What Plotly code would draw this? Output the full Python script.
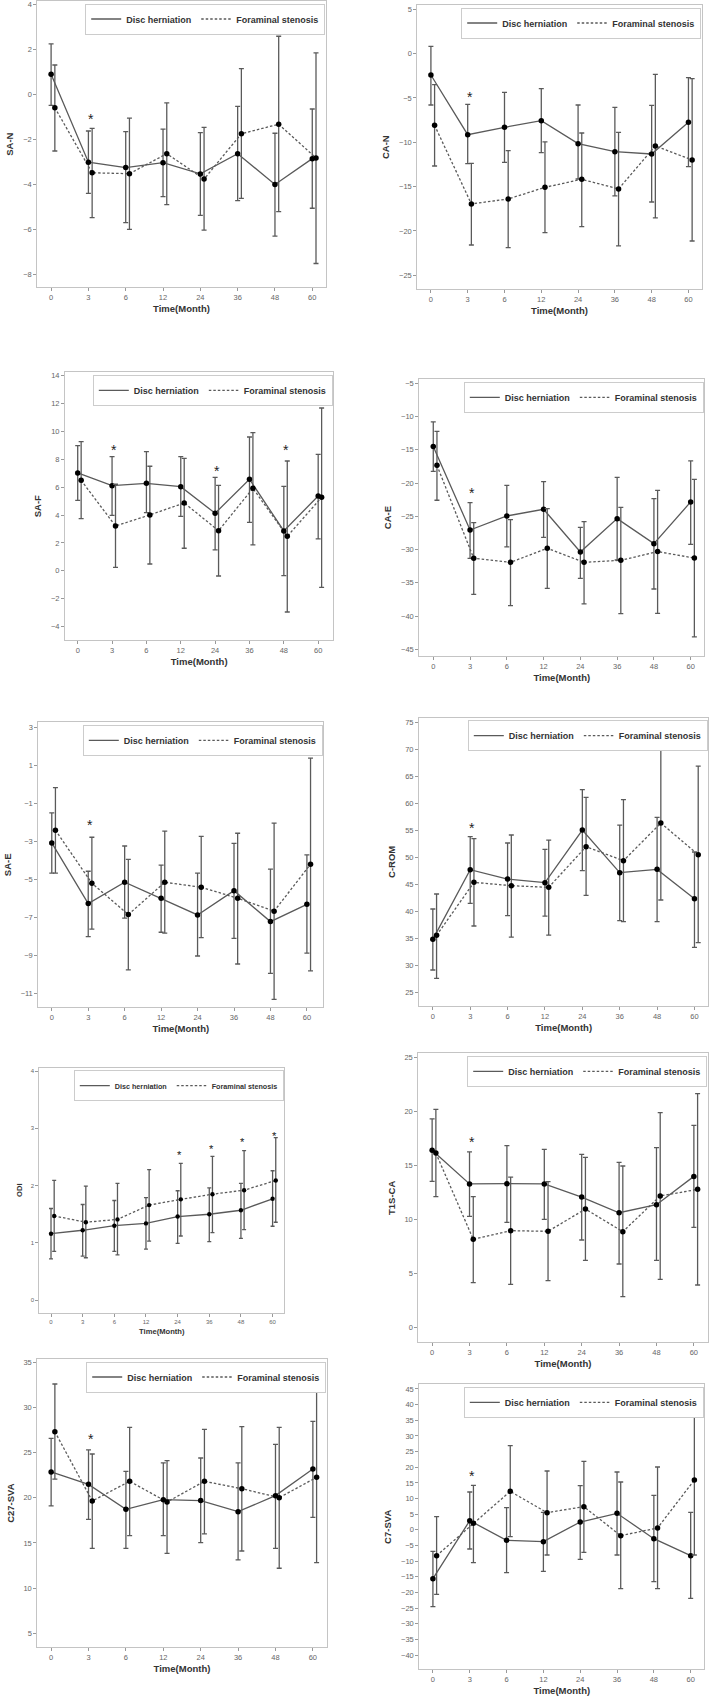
import plotly.graph_objects as go

FONT = "Liberation Sans"
LINE = "#5a5a5a"

MONTHS = ["0", "3", "6", "12", "24", "36", "48", "60"]
GROUPS = ["Disc herniation", "Foraminal stenosis"]

# SA-N
SA_N_DH = [0.90, -3.02, -3.26, -3.04, -3.54, -2.64, -4.01, -2.86]
SA_N_DH_HI = [2.25, -1.63, -1.66, -1.55, -1.70, -0.53, -1.73, -0.65]
SA_N_DH_LO = [-0.49, -4.41, -5.71, -4.55, -5.39, -4.73, -6.31, -5.07]
SA_N_FS = [-0.59, -3.49, -3.53, -2.64, -3.77, -1.75, -1.33, -2.83]
SA_N_FS_HI = [1.31, -1.51, -1.06, -0.38, -1.47, 1.15, 2.59, 1.85]
SA_N_FS_LO = [-2.52, -5.49, -6.01, -4.91, -6.04, -4.63, -5.22, -7.53]
SA_N_STAR_AT = ["3"]
SA_N_STAR_Y = [-0.95]

# CA-N
CA_N_DH = [-2.41, -9.14, -8.31, -7.56, -10.15, -11.05, -11.32, -7.74]
CA_N_DH_HI = [0.83, -5.71, -4.36, -3.95, -5.79, -6.05, -5.83, -2.71]
CA_N_DH_LO = [-5.79, -12.41, -12.26, -11.17, -14.14, -16.05, -16.73, -12.74]
CA_N_FS = [-8.08, -16.95, -16.39, -15.08, -14.17, -15.26, -10.41, -11.99]
CA_N_FS_HI = [-3.50, -12.37, -10.94, -9.96, -8.95, -8.87, -2.33, -2.82]
CA_N_FS_LO = [-12.67, -21.58, -21.88, -20.19, -19.51, -21.69, -18.53, -21.13]
CA_N_STAR_AT = ["3"]
CA_N_STAR_Y = [-4.6]

# SA-F
SA_F_DH = [7.02, 6.11, 6.28, 6.04, 4.13, 6.57, 2.86, 5.37]
SA_F_DH_HI = [8.98, 8.19, 8.55, 8.19, 6.71, 9.60, 6.06, 8.36]
SA_F_DH_LO = [5.06, 3.98, 4.17, 3.91, 1.50, 3.48, -0.34, 2.29]
SA_F_FS = [6.49, 3.22, 4.01, 4.87, 2.88, 5.92, 2.48, 5.27]
SA_F_FS_HI = [9.27, 6.21, 7.50, 8.07, 6.13, 9.91, 7.88, 11.68]
SA_F_FS_LO = [3.74, 0.25, 0.49, 1.62, -0.37, 1.86, -2.95, -1.18]
SA_F_STAR_AT = ["3", "24", "48"]
SA_F_STAR_Y = [8.9, 7.35, 8.9]

# CA-E
CA_E_DH = [-14.52, -27.06, -24.95, -23.95, -30.36, -25.35, -29.11, -22.84]
CA_E_DH_HI = [-10.81, -22.94, -20.34, -19.79, -26.65, -19.14, -22.34, -16.68]
CA_E_DH_LO = [-18.23, -31.32, -29.61, -28.16, -34.32, -31.57, -35.93, -29.21]
CA_E_FS = [-17.33, -31.32, -31.92, -29.81, -31.92, -31.62, -30.31, -31.27]
CA_E_FS_HI = [-12.22, -25.95, -25.50, -23.85, -25.80, -23.65, -21.09, -19.44]
CA_E_FS_LO = [-22.59, -36.73, -38.43, -35.83, -38.18, -39.64, -39.59, -43.14]
CA_E_STAR_AT = ["3"]
CA_E_STAR_Y = [-21.0]

# SA-E
SA_E_DH = [-3.09, -6.28, -5.16, -6.00, -6.88, -5.60, -7.23, -6.32]
SA_E_DH_HI = [-1.51, -4.58, -3.25, -4.26, -4.68, -3.11, -4.47, -3.72]
SA_E_DH_LO = [-4.68, -8.02, -7.05, -7.79, -9.04, -8.11, -9.95, -8.89]
SA_E_FS = [-2.42, -5.21, -6.86, -5.16, -5.42, -6.00, -6.68, -4.21]
SA_E_FS_HI = [-0.18, -2.79, -3.95, -2.47, -2.74, -2.58, -2.05, 1.37]
SA_E_FS_LO = [-4.68, -7.63, -9.77, -7.84, -8.07, -9.46, -11.32, -9.82]
SA_E_STAR_AT = ["3"]
SA_E_STAR_Y = [-2.0]

# C-ROM
C_ROM_DH = [34.85, 47.72, 46.00, 45.32, 55.05, 47.17, 47.78, 42.36]
C_ROM_DH_HI = [40.46, 53.82, 52.65, 51.48, 62.50, 55.97, 57.39, 50.99]
C_ROM_DH_LO = [29.19, 41.50, 39.22, 39.16, 47.54, 38.30, 38.12, 33.37]
C_ROM_FS = [35.59, 45.38, 44.77, 44.46, 51.97, 49.38, 56.34, 50.49]
C_ROM_FS_HI = [43.23, 53.45, 54.13, 53.20, 61.08, 60.65, 70.63, 66.87]
C_ROM_FS_LO = [27.65, 37.32, 35.28, 35.65, 42.98, 38.12, 42.12, 34.24]
C_ROM_STAR_AT = ["3"]
C_ROM_STAR_Y = [56.0]

# ODI
ODI_DH = [1.16, 1.22, 1.30, 1.34, 1.46, 1.50, 1.57, 1.77]
ODI_DH_HI = [1.60, 1.67, 1.74, 1.79, 1.91, 1.96, 2.04, 2.26]
ODI_DH_LO = [0.72, 0.77, 0.85, 0.89, 0.99, 1.02, 1.08, 1.29]
ODI_FS = [1.47, 1.36, 1.41, 1.66, 1.76, 1.85, 1.92, 2.09]
ODI_FS_HI = [2.09, 1.99, 2.04, 2.28, 2.39, 2.51, 2.61, 2.84]
ODI_FS_LO = [0.85, 0.74, 0.79, 1.03, 1.12, 1.18, 1.23, 1.36]
ODI_STAR_AT = ["24", "36", "48", "60"]
ODI_STAR_Y = [2.57, 2.69, 2.80, 2.91]

# T1S-CA
T1S_CA_DH = [16.40, 13.29, 13.32, 13.29, 12.08, 10.63, 11.37, 13.99]
T1S_CA_DH_HI = [19.30, 16.25, 16.83, 16.49, 16.03, 15.29, 16.65, 18.71]
T1S_CA_DH_LO = [13.53, 10.30, 9.74, 10.02, 8.11, 5.89, 6.23, 9.28]
T1S_CA_FS = [16.15, 8.17, 8.97, 8.91, 10.97, 8.88, 12.18, 12.79]
T1S_CA_FS_HI = [20.19, 12.11, 13.93, 13.50, 15.75, 14.95, 19.88, 21.64]
T1S_CA_FS_LO = [12.11, 4.16, 4.01, 4.35, 6.23, 2.87, 4.47, 3.95]
T1S_CA_STAR_AT = ["3"]
T1S_CA_STAR_Y = [17.45]

# C27-SVA
C27_SVA_DH = [22.86, 21.49, 18.73, 19.80, 19.69, 18.47, 20.24, 23.19]
C27_SVA_DH_HI = [26.59, 25.30, 22.93, 23.86, 24.41, 23.86, 25.92, 28.47]
C27_SVA_DH_LO = [19.10, 17.62, 14.41, 15.81, 15.04, 13.12, 14.41, 17.84]
C27_SVA_FS = [27.32, 19.65, 21.83, 19.54, 21.83, 21.01, 20.02, 22.27]
C27_SVA_FS_HI = [32.60, 24.85, 27.80, 24.11, 27.58, 27.88, 27.80, 31.72]
C27_SVA_FS_LO = [22.08, 14.41, 15.81, 13.86, 16.00, 14.11, 12.20, 12.82]
C27_SVA_STAR_AT = ["3"]
C27_SVA_STAR_Y = [26.85]

# C7-SVA
C7_SVA_DH = [-15.61, 2.93, -3.36, -3.79, 2.50, 5.27, -2.83, -8.26]
C7_SVA_DH_HI = [-6.87, 12.09, 7.08, 5.59, 14.11, 18.48, 11.02, 5.59]
C7_SVA_DH_LO = [-24.56, -6.13, -13.69, -13.27, -9.43, -8.05, -16.57, -21.89]
C7_SVA_FS = [-8.26, 2.07, 12.30, 5.48, 7.40, -1.87, 0.58, 15.92]
C7_SVA_FS_HI = [4.20, 14.22, 26.89, 18.80, 21.89, 15.28, 20.07, 39.89]
C7_SVA_FS_LO = [-20.61, -10.50, -2.19, -8.05, -7.19, -18.81, -18.81, -8.05]
C7_SVA_STAR_AT = ["3"]
C7_SVA_STAR_Y = [18.0]

PANELS = [
    ("SA-N", SA_N_DH, SA_N_DH_HI, SA_N_DH_LO, SA_N_FS, SA_N_FS_HI, SA_N_FS_LO, SA_N_STAR_AT, SA_N_STAR_Y),
    ("CA-N", CA_N_DH, CA_N_DH_HI, CA_N_DH_LO, CA_N_FS, CA_N_FS_HI, CA_N_FS_LO, CA_N_STAR_AT, CA_N_STAR_Y),
    ("SA-F", SA_F_DH, SA_F_DH_HI, SA_F_DH_LO, SA_F_FS, SA_F_FS_HI, SA_F_FS_LO, SA_F_STAR_AT, SA_F_STAR_Y),
    ("CA-E", CA_E_DH, CA_E_DH_HI, CA_E_DH_LO, CA_E_FS, CA_E_FS_HI, CA_E_FS_LO, CA_E_STAR_AT, CA_E_STAR_Y),
    ("SA-E", SA_E_DH, SA_E_DH_HI, SA_E_DH_LO, SA_E_FS, SA_E_FS_HI, SA_E_FS_LO, SA_E_STAR_AT, SA_E_STAR_Y),
    ("C-ROM", C_ROM_DH, C_ROM_DH_HI, C_ROM_DH_LO, C_ROM_FS, C_ROM_FS_HI, C_ROM_FS_LO, C_ROM_STAR_AT, C_ROM_STAR_Y),
    ("ODI", ODI_DH, ODI_DH_HI, ODI_DH_LO, ODI_FS, ODI_FS_HI, ODI_FS_LO, ODI_STAR_AT, ODI_STAR_Y),
    ("T1S-CA", T1S_CA_DH, T1S_CA_DH_HI, T1S_CA_DH_LO, T1S_CA_FS, T1S_CA_FS_HI, T1S_CA_FS_LO, T1S_CA_STAR_AT, T1S_CA_STAR_Y),
    ("C27-SVA", C27_SVA_DH, C27_SVA_DH_HI, C27_SVA_DH_LO, C27_SVA_FS, C27_SVA_FS_HI, C27_SVA_FS_LO, C27_SVA_STAR_AT, C27_SVA_STAR_Y),
    ("C7-SVA", C7_SVA_DH, C7_SVA_DH_HI, C7_SVA_DH_LO, C7_SVA_FS, C7_SVA_FS_HI, C7_SVA_FS_LO, C7_SVA_STAR_AT, C7_SVA_STAR_Y),
]

# plot frames in page pixels: left, right, top, bottom
FRAMES = [
    (37.3, 325.7, 1.0, 287.3), (417.3, 701.7, 5.0, 289.3),
    (65.0, 333.3, 372.3, 640.0), (419.3, 704.3, 379.3, 655.7),
    (38.3, 323.3, 722.3, 1007.3), (419.0, 708.3, 717.7, 1006.0),
    (39.3, 284.3, 1067.7, 1312.7), (418.3, 707.7, 1053.3, 1342.3),
    (37.3, 326.7, 1359.0, 1647.3), (419.3, 704.3, 1384.3, 1669.3),
]
YRANGES = [
    (-8.59, 4.16), (-26.58, 5.49), (-4.96, 14.24), (-45.96, -4.4), (-11.74, 3.26),
    (22.54, 75.8), (-0.22, 4.06), (-1.35, 25.37), (3.45, 35.37), (-44.57, 46.5),
]
YTICKS = [(0, 2), (0, 5), (0, 2), (0, 5), (1, 2), (0, 5), (0, 1), (0, 5), (0, 5), (0, 5)]
XRANGES = [(-0.37, 7.36)] * 2 + [(-0.37, 7.44), (-0.38, 7.37), (-0.37, 7.45)] + [(-0.37, 7.37)] * 5
SCALES = [1, 1, 1, 1, 1, 1, 0.8, 1, 1, 1]

W, H = 710, 1698
FS_OFFSET = 0.1

fig = go.Figure()
layout = {}
annotations = []

for k, (panel, frame, yr, (t0, dt), xr, sc) in enumerate(
        zip(PANELS, FRAMES, YRANGES, YTICKS, XRANGES, SCALES), start=1):
    label, dh, dh_hi, dh_lo, fs, fs_hi, fs_lo, star_at, star_y = panel
    xa = "x" if k == 1 else f"x{k}"
    ya = "y" if k == 1 else f"y{k}"
    lg = "legend" if k == 1 else f"legend{k}"
    idx = list(range(len(MONTHS)))

    series = [
        (GROUPS[0], dh, dh_hi, dh_lo, 0.0, "solid"),
        (GROUPS[1], fs, fs_hi, fs_lo, FS_OFFSET, "2.5px,2px"),
    ]
    for name, mean, hi, lo, off, dash in series:
        fig.add_trace(go.Scatter(
            x=[i + off for i in idx], y=mean, mode="lines", name=name,
            line=dict(color=LINE, width=1.3, dash=dash),
            legend=lg, xaxis=xa, yaxis=ya, hoverinfo="skip",
        ))
    for name, mean, hi, lo, off, dash in series:
        fig.add_trace(go.Scatter(
            x=[i + off for i in idx], y=mean, mode="markers", name=name,
            marker=dict(color="black", size=5.5 * sc),
            error_y=dict(type="data", symmetric=False,
                         array=[h - m for h, m in zip(hi, mean)],
                         arrayminus=[m - l for m, l in zip(mean, lo)],
                         color=LINE, thickness=1.3, width=2.5 * sc),
            showlegend=False, xaxis=xa, yaxis=ya,
        ))

    left, right, top, bottom = frame
    axis_common = dict(
        showline=True, mirror=True, linecolor="#c4c4c4", linewidth=1,
        ticks="outside", ticklen=3, tickcolor="#999999",
        showgrid=False, zeroline=False,
        tickfont=dict(family=FONT, size=7.5 * sc, color="#666666"),
    )
    layout[f"xaxis{k}" if k > 1 else "xaxis"] = dict(
        axis_common, domain=[left / W, right / W], anchor=ya,
        range=list(xr), tickmode="array", tickvals=idx, ticktext=MONTHS,
        title=dict(text="Time(Month)", standoff=4,
                   font=dict(family=FONT, size=9.5 * sc, color="#333333", weight="bold")),
    )
    layout[f"yaxis{k}" if k > 1 else "yaxis"] = dict(
        axis_common, domain=[1 - bottom / H, 1 - top / H], anchor=xa,
        range=list(yr), tick0=t0, dtick=dt,
        title=dict(text=label, standoff=7,
                   font=dict(family=FONT, size=9.5 * sc, color="#333333", weight="bold")),
    )
    layout[lg] = dict(
        x=(right - 0.5) / W, y=1 - (top + 2.5) / H, xanchor="right", yanchor="top",
        orientation="h", bgcolor="white", bordercolor="#cccccc", borderwidth=1,
        font=dict(family=FONT, size=9 * sc, color="#333333", weight="bold"),
        itemwidth=30, tracegroupgap=0,
    )
    for at, yv in zip(star_at, star_y):
        annotations.append(dict(
            x=MONTHS.index(at) + 0.06, y=yv, xref=xa, yref=ya, text="*",
            showarrow=False, yshift=-3 * sc,
            font=dict(family=FONT, size=14 * sc, color="#222222"),
        ))

fig.update_layout(
    width=W, height=H, margin=dict(l=0, r=0, t=0, b=0),
    paper_bgcolor="white", plot_bgcolor="white", hovermode=False,
    annotations=annotations, **layout,
)

# the page body has a default margin; drop it so the figure fills the window
fig.write_html("out.html", config={"displayModeBar": False},
               post_script="document.body.style.margin='0';")
